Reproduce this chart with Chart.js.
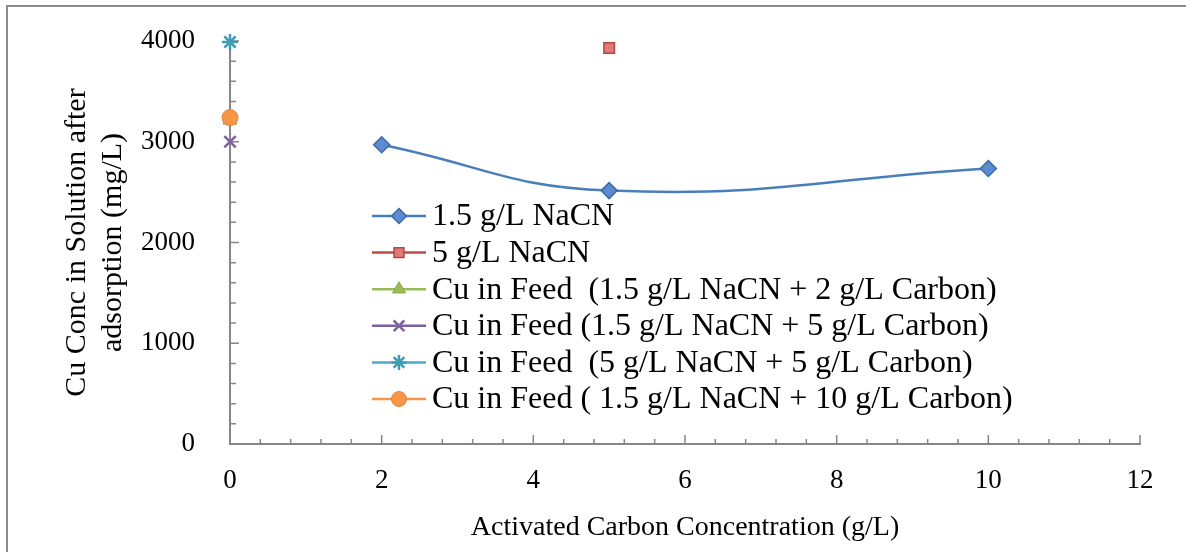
<!DOCTYPE html>
<html lang="en">
<head>
    <meta charset="UTF-8">
    <title>Cu Conc vs Activated Carbon</title>
    <script src="https://cdn.jsdelivr.net/npm/chart.js"></script>
    <style>
        body { margin: 0; background: #fff; }
        .wrap { position: relative; width: 1186px; height: 552px; }
        canvas { display: block; }
    </style>
</head>
<body>
<div class="wrap"><canvas id="chart" width="1186" height="552"></canvas></div>
<script>
// series data
const naCn15X = [2, 5, 10];
const naCn15Y = [2970, 2515, 2735];
const naCn5X = [5];
const naCn5Y = [3930];
const feed15c2Y = [3215];
const feed15c5Y = [3000];
const feed5c5Y = [3990];
const feed15c10Y = [3240];
const feedX = [0];

const xTicks = [0, 2, 4, 6, 8, 10, 12];
const yTicks = [0, 1000, 2000, 3000, 4000];

const seriesNames = [
    '1.5 g/L NaCN',
    '5 g/L NaCN',
    'Cu in Feed  (1.5 g/L NaCN + 2 g/L Carbon)',
    'Cu in Feed (1.5 g/L NaCN + 5 g/L Carbon)',
    'Cu in Feed  (5 g/L NaCN + 5 g/L Carbon)',
    'Cu in Feed ( 1.5 g/L NaCN + 10 g/L Carbon)'
];

const pts = (xs, ys) => xs.map((x, i) => ({ x: x, y: ys[i] }));
const serif = "'Liberation Serif', 'DejaVu Serif', serif";
const axisGray = '#868686';

const datasets = [
    { label: seriesNames[0], data: pts(naCn15X, naCn15Y), showLine: true, tension: 0.45,
      borderColor: '#4a7ebb', borderWidth: 2.5, backgroundColor: '#5b8bd0',
      pointStyle: 'rectRot', pointRadius: 8, pointBorderColor: '#3d6aa6', pointBorderWidth: 1.5, order: 2 },
    { label: seriesNames[1], data: pts(naCn5X, naCn5Y), showLine: false,
      borderColor: '#be4b48', backgroundColor: '#e07a78',
      pointStyle: 'rect', pointRadius: 7.5, pointBorderColor: '#b34744', pointBorderWidth: 1.5, order: 2 },
    { label: seriesNames[2], data: pts(feedX, feed15c2Y), showLine: false,
      borderColor: '#9bbb59', backgroundColor: '#9bbb59',
      pointStyle: 'triangle', pointRadius: 8, pointBorderColor: '#8aa64d', pointBorderWidth: 1, order: 3 },
    { label: seriesNames[3], data: pts(feedX, feed15c5Y), showLine: false,
      borderColor: '#7d60a0', backgroundColor: '#7d60a0',
      pointStyle: 'crossRot', pointRadius: 8, pointBorderColor: '#7d60a0', pointBorderWidth: 2.5, order: 2 },
    { label: seriesNames[4], data: pts(feedX, feed5c5Y), showLine: false,
      borderColor: '#4bacc6', backgroundColor: '#4bacc6',
      pointStyle: 'star', pointRadius: 8, pointBorderColor: '#3f9ab3', pointBorderWidth: 2.5, order: 2 },
    { label: seriesNames[5], data: pts(feedX, feed15c10Y), showLine: false,
      borderColor: '#f79646', backgroundColor: '#f79646',
      pointStyle: 'circle', pointRadius: 8, pointBorderColor: '#e4823a', pointBorderWidth: 1, order: 1 }
];
datasets.forEach(d => { d.clip = false; });

// outer frame of the chart object
const framePlugin = {
    id: 'frame',
    beforeDraw(chart) {
        const ctx = chart.ctx;
        ctx.save();
        ctx.fillStyle = '#fff';
        ctx.fillRect(0, 0, chart.width, chart.height);
        ctx.strokeStyle = '#8c8c8c';
        ctx.lineWidth = 2;
        ctx.strokeRect(7, 6, chart.width + 20, chart.height + 20);
        ctx.restore();
    }
};

// inward tick marks: minor every 0.4 / 200, major every 2 / 1000
const ticksPlugin = {
    id: 'innerTicks',
    beforeDatasetsDraw(chart) {
        const ctx = chart.ctx;
        const xs = chart.scales.x, ys = chart.scales.y;
        const area = chart.chartArea;
        ctx.save();
        ctx.strokeStyle = axisGray;
        ctx.lineWidth = 1.5;
        ctx.beginPath();
        for (let i = 0; i <= 30; i++) {
            const px = xs.getPixelForValue(i * 0.4);
            const len = i % 5 === 0 ? 9 : 5;
            ctx.moveTo(px, area.bottom);
            ctx.lineTo(px, area.bottom - len);
        }
        for (let j = 0; j <= 20; j++) {
            const py = ys.getPixelForValue(j * 200);
            const len = j % 5 === 0 ? 9 : 6;
            ctx.moveTo(area.left, py);
            ctx.lineTo(area.left + len, py);
        }
        ctx.stroke();
        ctx.restore();
    }
};

// legend drawn inside the plot area
const legendPlugin = {
    id: 'innerLegend',
    afterDraw(chart) {
        const ctx = chart.ctx;
        const x0 = 372, x1 = 426, y0 = 216, step = 36.6;
        ctx.save();
        ctx.font = '32px ' + serif;
        ctx.textBaseline = 'middle';
        ctx.textAlign = 'left';
        chart.data.datasets.forEach((ds, i) => {
            const y = y0 + i * step;
            ctx.strokeStyle = ds.borderColor;
            ctx.lineWidth = 2.5;
            ctx.beginPath();
            ctx.moveTo(x0, y);
            ctx.lineTo(x1, y);
            ctx.stroke();
            ctx.fillStyle = ds.backgroundColor;
            ctx.strokeStyle = ds.pointBorderColor;
            ctx.lineWidth = ds.pointBorderWidth;
            Chart.helpers.drawPoint(ctx, {
                pointStyle: ds.pointStyle, radius: ds.pointRadius - 0.5, rotation: 0,
                borderWidth: ds.pointBorderWidth
            }, (x0 + x1) / 2, y);
            ctx.fillStyle = '#000';
            ctx.fillText(ds.label, x1 + 6, y + 1);
        });
        ctx.restore();
    }
};

new Chart(document.getElementById('chart'), {
    type: 'scatter',
    data: { datasets: datasets },
    options: {
        responsive: false,
        animation: false,
        layout: { padding: { left: 0, right: 46, top: 41, bottom: 0 } },
        plugins: { legend: { display: false }, tooltip: { enabled: false } },
        scales: {
            x: {
                type: 'linear', min: 0, max: 12,
                afterFit: s => { s.height = 108; },
                afterBuildTicks: s => { s.ticks = xTicks.map(v => ({ value: v })); },
                grid: { display: false, drawTicks: false },
                border: { display: true, color: axisGray, width: 2 },
                ticks: { color: '#000', padding: 21, font: { family: serif, size: 27 },
                         callback: v => String(v) },
                title: { display: true, text: 'Activated Carbon Concentration (g/L)', color: '#000',
                         font: { family: serif, size: 28 }, padding: { top: 0, bottom: 8 } }
            },
            y: {
                type: 'linear', min: 0, max: 4000,
                afterFit: s => { s.width = 230; s.paddingTop = 0; s.paddingBottom = 0; },
                afterBuildTicks: s => { s.ticks = yTicks.map(v => ({ value: v })); },
                grid: { display: false, drawTicks: false },
                border: { display: true, color: axisGray, width: 2 },
                ticks: { color: '#000', padding: 35, font: { family: serif, size: 27 },
                         callback: v => String(v) },
                title: { display: true, text: ['Cu Conc in Solution after', 'adsorption (mg/L)'], color: '#000',
                         font: { family: serif, size: 30 }, padding: { top: 59, bottom: 0 } }
            }
        }
    },
    plugins: [framePlugin, ticksPlugin, legendPlugin]
});
</script>
</body>
</html>
